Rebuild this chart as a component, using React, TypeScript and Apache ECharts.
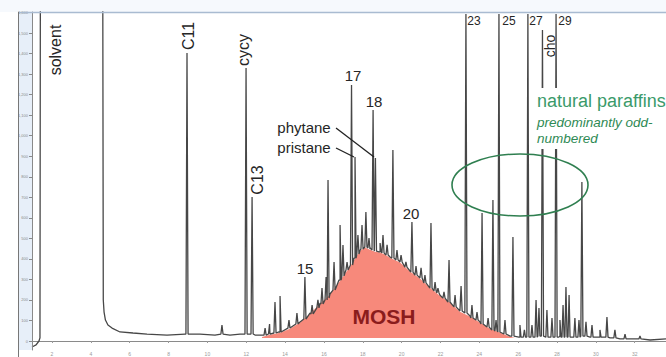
import React, { useEffect, useRef } from 'react';
import * as echarts from 'echarts';

// Retention time (min) / detector signal.
// Background trace (baseline, off-scale solvent plateau, MOSH hump top)
const baselineTrace: [number, number][] = [
  [0.97, -29], [1.18, -19], [1.33, 0], [1.38, 15], [1.41, 2500], [4.6, 2500],
  [4.64, 200], [4.68, 141], [4.75, 102], [4.88, 78], [5.09, 63], [5.5, 44],
  [6.17, 39], [6.89, 34], [7.92, 29], [8.85, 34], [9.62, 34], [10.39, 29],
  [11.16, 29], [11.68, 34], [12.45, 29], [12.81, 29], [13.22, 34], [13.74, 44],
  [14.25, 63], [14.77, 93], [15.28, 136], [15.8, 185], [16.31, 229], [16.83, 297],
  [17.08, 331], [17.34, 365], [17.6, 404], [17.86, 443], [18.11, 458], [18.37, 448],
  [18.63, 438], [18.89, 434], [19.14, 424], [19.4, 409], [19.92, 385], [20.43, 341],
  [20.94, 307], [21.46, 263], [21.97, 224], [22.49, 190], [23.0, 146], [23.52, 122],
  [24.03, 93], [24.55, 63], [25.06, 44], [25.58, 24], [26.09, 19], [26.61, 19],
  [27.12, 24], [27.64, 19], [28.15, 24], [28.67, 19], [29.18, 24], [29.7, 19],
  [30.21, 19], [30.73, 15], [31.24, 10], [32.01, 10], [32.79, 5], [33.61, 10],
];

// Unresolved complex mixture (MOSH hump)
const moshHump: [number, number][] = [
  [12.81, 19], [13.22, 30], [13.74, 40], [14.25, 60], [14.77, 90], [15.28, 133],
  [15.8, 182], [16.31, 226], [16.83, 294], [17.08, 328], [17.34, 362], [17.6, 401],
  [17.86, 440], [18.11, 455], [18.37, 445], [18.63, 435], [18.89, 431], [19.14, 421],
  [19.4, 406], [19.92, 382], [20.43, 338], [20.94, 304], [21.46, 260], [21.97, 221],
  [22.49, 187], [23.0, 143], [23.52, 119], [24.03, 90], [24.55, 60], [25.06, 41],
  [25.58, 21], [25.84, 15],
];

// Resolved peaks: [retention time, apex signal, foot signal]
const peaks: [number, number, number][] = [
  [8.95, 1403, 34], [10.75, 78, 34], [11.99, 1330, 34], [12.3, 701, 34],
  [12.97, 63, 29], [13.2, 83, 34], [13.48, 190, 39], [13.74, 219, 44],
  [14.2, 102, 63], [14.61, 136, 83], [15.02, 312, 107], [15.39, 175, 132],
  [15.69, 200, 161], [15.9, 258, 180], [16.11, 312, 200], [16.21, 784, 209],
  [16.52, 385, 248], [16.83, 565, 297], [16.98, 468, 317], [17.19, 385, 346],
  [17.42, 1247, 370], [17.6, 896, 404], [17.75, 516, 424], [17.96, 565, 448],
  [18.16, 628, 458], [18.32, 502, 453], [18.53, 1125, 443], [18.65, 891, 438],
  [18.89, 477, 434], [19.04, 516, 429], [19.25, 468, 419], [19.55, 930, 404],
  [19.76, 443, 395], [19.97, 419, 385], [20.22, 385, 360], [20.53, 580, 336],
  [20.74, 365, 321], [21.0, 356, 307], [21.2, 321, 283], [21.51, 575, 258],
  [21.72, 287, 244], [21.87, 258, 234], [22.18, 239, 209], [22.44, 395, 190],
  [22.75, 224, 166], [23.06, 268, 146], [23.31, 1593, 136], [23.62, 175, 112],
  [23.88, 141, 102], [24.14, 623, 83], [24.45, 112, 68], [24.7, 687, 54],
  [24.86, 102, 49], [25.01, 1593, 44], [25.32, 102, 34], [25.73, 507, 24],
  [26.09, 78, 19], [26.32, 54, 19], [26.5, 1593, 19], [26.71, 78, 19],
  [26.92, 200, 19], [27.07, 161, 24], [27.25, 1515, 24], [27.48, 151, 19],
  [27.74, 112, 19], [27.95, 1593, 19], [28.15, 102, 19], [28.31, 175, 19],
  [28.46, 263, 19], [28.62, 224, 19], [28.92, 112, 19], [29.13, 102, 19],
  [29.28, 774, 24], [29.49, 93, 24], [29.8, 78, 19], [30.21, 54, 19],
  [30.57, 117, 19], [30.98, 54, 15], [31.5, 34, 10], [32.27, 24, 10],
];

const X_MIN = 0.97;
const X_MAX = 33.61;
const Y_MIN = -43.8;
const Y_MAX = 1602.6;
const PEAK_HALF_WIDTH = 0.055;

function buildTrace(): [number, number][] {
  const pts: [number, number][] = baselineTrace.map((p) => [p[0], p[1]] as [number, number]);
  peaks.forEach(([t, apex, foot]) => {
    pts.push([t - PEAK_HALF_WIDTH, foot], [t, apex], [t + PEAK_HALF_WIDTH, foot]);
  });
  return pts
    .map((p, i) => ({ p, i }))
    .sort((a, b) => a.p[0] - b.p[0] || a.i - b.i)
    .map((o) => o.p);
}

const FONT = '"Liberation Sans", Arial, Helvetica, sans-serif';

function txt(text: string, x: number, y: number, size: number, opts: any = {}) {
  return {
    type: 'text',
    x,
    y,
    rotation: opts.rotation || 0,
    z: 100,
    style: {
      text,
      fontSize: size,
      fontFamily: FONT,
      fontWeight: opts.weight || 'normal',
      fontStyle: opts.italic ? 'italic' : 'normal',
      fill: opts.color || '#262626',
      align: opts.align || 'center',
      verticalAlign: 'middle',
    },
  };
}

export default function App() {
  const ref = useRef<HTMLDivElement>(null);
  useEffect(() => {
    document.body.style.margin = '0';
    if (!ref.current) return;
    const chart = echarts.init(ref.current, undefined, { renderer: 'svg' });
    const R = Math.PI / 2;
    const option: any = {
      animation: false,
      backgroundColor: '#ffffff',
      grid: { left: 32, right: 0, top: 12, bottom: 7, containLabel: false },
      xAxis: {
        type: 'value',
        min: X_MIN,
        max: X_MAX,
        minInterval: 2,
        maxInterval: 2,
        axisLine: { lineStyle: { color: '#8a8a8a', width: 1 } },
        axisTick: { length: 2, lineStyle: { color: '#9a9a9a' } },
        axisLabel: { fontSize: 5, color: '#9a9a9a', margin: 1, showMinLabel: false, showMaxLabel: false },
        splitLine: { show: false },
      },
      yAxis: {
        type: 'value',
        min: Y_MIN,
        max: Y_MAX,
        minInterval: 100,
        maxInterval: 100,
        z: 5,
        axisLine: { show: true, lineStyle: { color: '#8a8a8a', width: 1 } },
        axisTick: { show: true, length: 3, lineStyle: { color: '#8a8a8a' } },
        axisLabel: { fontSize: 4, color: '#8a8a8a', margin: 4, showMinLabel: false, showMaxLabel: false },
        splitLine: { show: false },
      },
      series: [
        {
          type: 'line',
          name: 'MOSH',
          data: moshHump,
          symbol: 'none',
          smooth: false,
          lineStyle: { width: 0, opacity: 0 },
          areaStyle: { color: '#f7897b', opacity: 1, origin: 15 },
          z: 2,
        },
        {
          type: 'line',
          name: 'trace',
          data: buildTrace(),
          symbol: 'none',
          smooth: false,
          clip: true,
          lineStyle: { color: '#474747', width: 1.3 },
          z: 3,
        },
      ],
      graphic: [
        { type: 'rect', z: 0, shape: { x: 0, y: 0, width: 666, height: 12 }, style: { fill: '#f6f9fd' } },
        { type: 'rect', z: 0, shape: { x: 18, y: 12, width: 14, height: 338 }, style: { fill: '#e7eff9' } },
        { type: 'line', z: 50, shape: { x1: 18, y1: 12.5, x2: 666, y2: 12.5 }, style: { stroke: '#a9bbd1', lineWidth: 1.5 } },
        { type: 'line', z: 50, shape: { x1: 18.5, y1: 12, x2: 18.5, y2: 357 }, style: { stroke: '#777', lineWidth: 1 } },
        // peak labels
        txt('solvent', 55, 50, 16, { rotation: R }),
        txt('C11', 188, 36, 16, { rotation: R }),
        txt('cycy', 243, 50, 16, { rotation: R }),
        txt('C13', 257, 180, 16, { rotation: R }),
        txt('17', 353, 75, 15),
        txt('18', 374, 101, 15),
        txt('phytane', 304, 127, 15),
        txt('pristane', 304, 147, 15),
        { type: 'line', z: 100, shape: { x1: 336, y1: 128, x2: 374, y2: 157 }, style: { stroke: '#222', lineWidth: 1.3 } },
        { type: 'line', z: 100, shape: { x1: 336, y1: 148, x2: 354, y2: 157 }, style: { stroke: '#222', lineWidth: 1.3 } },
        txt('15', 305, 268, 15),
        txt('20', 411, 213, 15),
        txt('23', 474, 21, 12),
        txt('25', 509, 21, 12),
        txt('27', 536, 21, 12),
        txt('29', 565, 21, 12),
        txt('cho', 550, 46, 14, { rotation: R }),
        // natural paraffins annotation
        { type: 'rect', z: 90, shape: { x: 536, y: 88, width: 130, height: 61 }, style: { fill: '#ffffff' } },
        txt('natural paraffins', 537, 101, 18, { align: 'left', color: '#3a9a6a' }),
        txt('predominantly odd-', 537, 122, 13.5, { align: 'left', italic: true, color: '#2f8a55' }),
        txt('numbered', 537, 138, 13.5, { align: 'left', italic: true, color: '#2f8a55' }),
        { type: 'ellipse', z: 100, shape: { cx: 520, cy: 185, rx: 68, ry: 31 }, style: { fill: 'none', stroke: '#2f7f50', lineWidth: 1.6 } },
        txt('MOSH', 384, 316, 21, { weight: 'bold', color: '#8a1c1c' }),
      ],
    };
    chart.setOption(option);
    return () => chart.dispose();
  }, []);
  return <div ref={ref} style={{ width: 666, height: 357 }} />;
}
